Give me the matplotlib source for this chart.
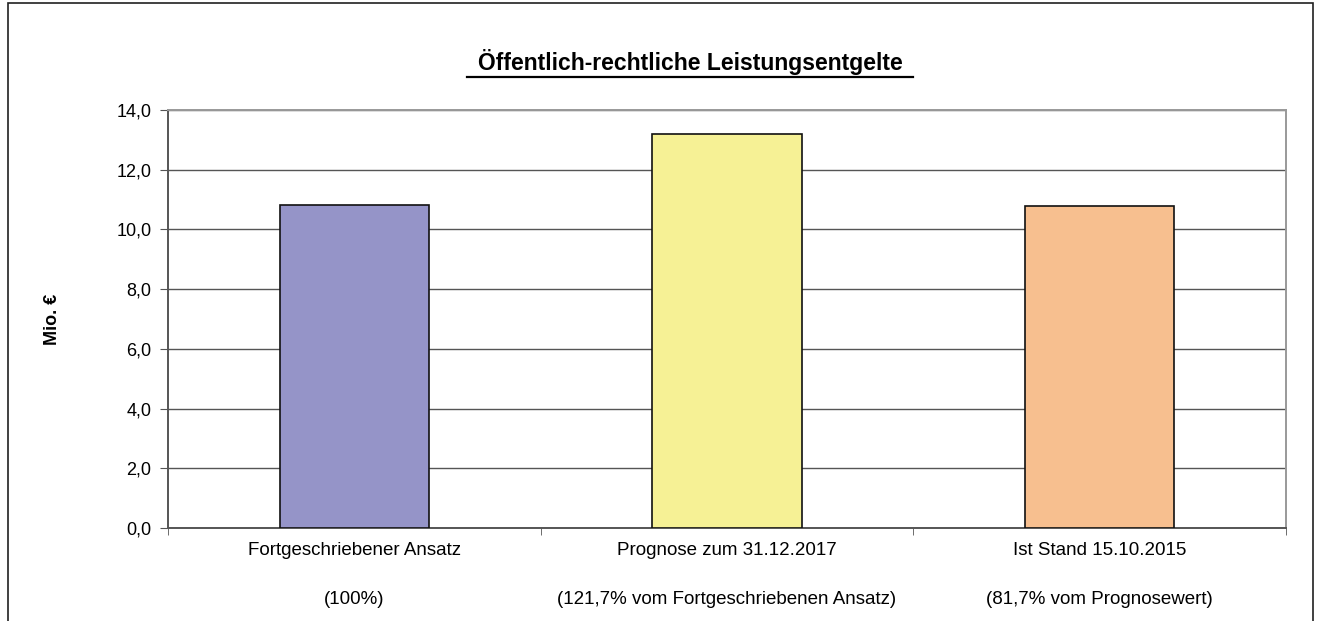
import matplotlib
matplotlib.use("Agg")
from matplotlib import pyplot as plt
from matplotlib.patches import Rectangle

# Data
categories = ["Fortgeschriebener Ansatz", "Prognose zum 31.12.2017", "Ist Stand 15.10.2015"]
notes = ["(100%)", "(121,7% vom Fortgeschriebenen Ansatz)", "(81,7% vom Prognosewert)"]
values = [10.83, 13.18, 10.77]
colors = ["#9594c8", "#f6f195", "#f7bf8f"]
yticks = [0, 2, 4, 6, 8, 10, 12, 14]

plt.rcParams['font.family'] = ['Liberation Sans', 'DejaVu Sans']

fig = plt.figure(figsize=(13.19, 6.21), dpi=100)
ax = fig.add_axes([168 / 1319, 1 - 528 / 621, (1286 - 168) / 1319, (528 - 110) / 621])

# outer chart border (bottom edge cut off in the reference)
fig.patches.append(Rectangle((8 / 1319, -0.1), (1313 - 8) / 1319, 1.1 - 3 / 621,
                             transform=fig.transFigure, fill=False,
                             edgecolor="#202020", linewidth=1.2))

x = range(len(categories))
ax.bar(x, values, width=0.4, color=colors, edgecolor="#111111", linewidth=1.2, zorder=3)

ax.set_xlim(-0.5, 2.5)
ax.set_ylim(0, 14)
ax.set_yticks(yticks)
ax.set_yticklabels([f"{v:.1f}".replace(".", ",") for v in yticks], fontsize=13)
ax.yaxis.grid(True, color="#555555", linewidth=1.0, zorder=0)
ax.tick_params(axis="y", direction="out", length=6, color="#555555", pad=6)

ax.set_xticks(list(x))
ax.set_xticklabels([c + "\n\n" + n for c, n in zip(categories, notes)],
                   fontsize=13.5, linespacing=1.6)
ax.tick_params(axis="x", which="major", length=0, pad=10)
ax.set_xticks([-0.5, 0.5, 1.5, 2.5], minor=True)
ax.tick_params(axis="x", which="minor", direction="out", length=5, color="#555555")

for s in ["left", "bottom"]:
    ax.spines[s].set_color("#555555")
    ax.spines[s].set_linewidth(1.4)
for s in ["top", "right"]:
    ax.spines[s].set_color("#999999")
    ax.spines[s].set_linewidth(1.4)

ax.set_ylabel("Mio. €", fontsize=13, fontweight="bold", labelpad=40)

fig.text(690 / 1319, 1 - 62 / 621, "Öffentlich-rechtliche Leistungsentgelte",
         ha="center", va="center", fontsize=16.5, fontweight="bold")
# underline for the title
fig.add_artist(plt.Line2D([467 / 1319, 913 / 1319], [1 - 77 / 621, 1 - 77 / 621],
                          color="black", linewidth=1.6))

fig.savefig("out.png", dpi=100)
